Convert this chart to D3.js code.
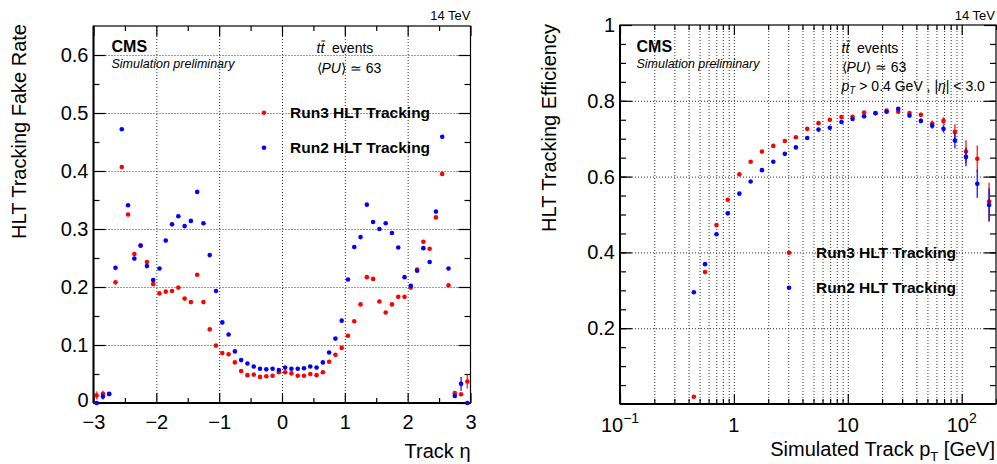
<!DOCTYPE html>
<html>
<head>
<meta charset="utf-8">
<title>HLT tracking fake rate and efficiency</title>
<script src="https://cdn.jsdelivr.net/npm/d3@7"></script>
<style>
  body { margin: 0; background: #fff; }
  svg { font-family: "Liberation Sans", Arial, Helvetica, sans-serif; }
  .grid line { stroke: #333; stroke-dasharray: 1,2; }
  .grid path, .ticks path { display: none; }
  .ticks line { stroke: #000; stroke-width: 1.2; }
  .ticks text { font-size: 20px; fill: #000; font-family: "Liberation Sans", Arial, sans-serif; }
</style>
</head>
<body>
<svg id="chart" width="997" height="464"></svg>
<script>
  // ---- left panel: fake rate vs track eta ----
  var etaBins = [-2.95,-2.85,-2.75,-2.65,-2.55,-2.45,-2.35,-2.25,-2.15,-2.05,
                 -1.95,-1.85,-1.75,-1.65,-1.55,-1.45,-1.35,-1.25,-1.15,-1.05,
                 -0.95,-0.85,-0.75,-0.65,-0.55,-0.45,-0.35,-0.25,-0.15,-0.05,
                  0.05, 0.15, 0.25, 0.35, 0.45, 0.55, 0.65, 0.75, 0.85, 0.95,
                  1.05, 1.15, 1.25, 1.35, 1.45, 1.55, 1.65, 1.75, 1.85, 1.95,
                  2.05, 2.15, 2.25, 2.35, 2.45, 2.55, 2.65, 2.75, 2.85, 2.95];
  var fakeRun3 = [0.013,0.016,0.015,0.208,0.407,0.325,0.257,0.272,0.243,0.205,
                  0.189,0.192,0.193,0.199,0.180,0.174,0.221,0.174,0.127,0.099,
                  0.086,0.084,0.070,0.055,0.048,0.049,0.045,0.046,0.047,0.053,
                  0.053,0.051,0.047,0.047,0.050,0.048,0.053,0.071,0.083,0.095,
                  0.116,0.141,0.170,0.217,0.214,0.175,0.156,0.170,0.183,0.183,
                  0.199,0.230,0.278,0.266,0.320,0.395,0.203,0.017,0.015,0.037];
  var fakeRun2 = [0.000,0.011,0.016,0.233,0.472,0.341,0.249,0.271,0.236,0.212,
                  0.232,0.280,0.308,0.322,0.305,0.314,0.364,0.310,0.255,0.193,
                  0.139,0.118,0.089,0.074,0.068,0.063,0.059,0.058,0.059,0.057,
                  0.061,0.059,0.059,0.060,0.063,0.061,0.070,0.087,0.111,0.142,
                  0.213,0.269,0.286,0.342,0.312,0.300,0.310,0.293,0.268,0.217,
                  0.202,0.228,0.267,0.243,0.330,0.459,0.232,0.012,0.033,0.000];
  // only the outermost bins carry a visible error bar
  var fakeErr3 = {"-2.95": 0.007, "-2.85": 0.005, "2.95": 0.012};
  var fakeErr2 = {"-2.85": 0.005, "2.85": 0.012};
  var etaTicks = [-3, -2, -1, 0, 1, 2, 3];
  var fakeTicks = [0, 0.1, 0.2, 0.3, 0.4, 0.5, 0.6];

  // ---- right panel: efficiency vs simulated pT ----
  var ptBins = [0.445,0.558,0.703,0.883,1.117,1.403,1.762,2.218,2.80,3.50,
                4.40,5.53,6.95,8.80,11.0,13.9,17.5,21.9,27.7,34.8,
                43.8,55.1,69.2,87.1,109,137,174];
  var effRun3 = [0.019,0.348,0.472,0.539,0.606,0.639,0.666,0.681,0.694,0.704,
                 0.726,0.741,0.750,0.757,0.758,0.769,0.768,0.774,0.771,0.768,
                 0.763,0.740,0.747,0.718,0.666,0.647,0.534];
  var effRun2 = [0.295,0.369,0.448,0.503,0.555,0.587,0.617,0.639,0.660,0.677,
                 0.702,0.724,0.729,0.744,0.752,0.759,0.767,0.771,0.779,0.761,
                 0.747,0.734,0.726,0.695,0.652,0.581,0.525];
  var effErr3 = [0,0,0,0,0,0,0,0,0,0, 0,0,0,0,0,0,0,0,0.004,0.005,
                 0.006,0.008,0.01,0.02,0.03,0.035,0.05];
  var effErr2 = [0,0,0,0,0,0,0,0,0,0, 0,0,0,0,0,0,0,0,0.004,0.005,
                 0.006,0.008,0.01,0.02,0.025,0.037,0.044];
  var ptTicks = [0.1, 1, 10, 100];
  var ptTickLabels = [["10", "\u22121"], ["1", ""], ["10", ""], ["10", "2"]];
  var effTicks = [0.2, 0.4, 0.6, 0.8, 1];

  var series = ["Run3 HLT Tracking", "Run2 HLT Tracking"];
  var colors = ["#ff0000", "#0000ff"];

  var svg = d3.select("#chart");
  svg.append("rect").attr("width", 997).attr("height", 464).attr("fill", "#fff");

  // shared bits
  function framePanel(g, x0, x1, y0, y1) {
    g.append("rect")
        .attr("x", x0).attr("y", y0)
        .attr("width", x1 - x0).attr("height", y1 - y0)
        .attr("fill", "none").attr("stroke", "#000").attr("stroke-width", 1.2);
    g.append("line").attr("x1", x0).attr("x2", x0).attr("y1", y0).attr("y2", y1)
        .attr("stroke", "#000").attr("stroke-width", 2);
    g.append("line").attr("x1", x0).attr("x2", x1).attr("y1", y1).attr("y2", y1)
        .attr("stroke", "#000").attr("stroke-width", 2);
  }

  function drawPoints(g, xs, ys, errs, x, y, color) {
    var pts = xs.map(function(d, i) { return {x: d, y: ys[i], e: errs(i, d)}; });
    g.selectAll(null).data(pts.filter(function(d) { return d.e > 0; }))
      .enter().append("line")
        .attr("x1", function(d) { return x(d.x); })
        .attr("x2", function(d) { return x(d.x); })
        .attr("y1", function(d) { return y(Math.max(0, d.y - d.e)); })
        .attr("y2", function(d) { return y(d.y + d.e); })
        .attr("stroke", color).attr("stroke-width", 1.5).attr("opacity", 0.8);
    g.selectAll(null).data(pts)
      .enter().append("circle")
        .attr("cx", function(d) { return x(d.x); })
        .attr("cy", function(d) { return y(d.y); })
        .attr("r", 2.3)
        .attr("fill", color);
  }

  function legend(g, lx, tx, ys) {
    series.forEach(function(s, i) {
      g.append("circle").attr("cx", lx).attr("cy", ys[i]).attr("r", 2.3).attr("fill", colors[i]);
      g.append("text").attr("x", tx).attr("y", ys[i] + 5.5)
          .attr("font-size", 15.5).attr("font-weight", "bold").text(s);
    });
  }

  function ttbar(g, x, y) {
    var t = g.append("text").attr("x", x).attr("y", y).attr("font-size", 14);
    t.append("tspan").attr("font-style", "italic").text("tt");
    t.append("tspan").text("\u00a0\u00a0events");
    var c = t.node().getExtentOfChar(1);
    g.append("line")
        .attr("x1", c.x + 1).attr("x2", c.x + c.width + 1)
        .attr("y1", y - 12).attr("y2", y - 12)
        .attr("stroke", "#000").attr("stroke-width", 1);
  }

  function pileup(g, x, y) {
    var t = g.append("text").attr("x", x).attr("y", y).attr("font-size", 14);
    t.append("tspan").text("\u27e8");
    t.append("tspan").attr("font-style", "italic").text("PU");
    t.append("tspan").text("\u27e9 \u2243 63");
  }

  function cmsLabel(g, x) {
    g.append("text").attr("x", x).attr("y", 52)
        .attr("font-size", 16).attr("font-weight", "bold").text("CMS");
    g.append("text").attr("x", x).attr("y", 68)
        .attr("font-size", 12.5).attr("font-style", "italic").text("Simulation preliminary");
  }

  // ================= left panel =================
  var L = {x0: 93.5, x1: 470.5, y0: 26, y1: 403};
  var xL = d3.scaleLinear().domain([-3, 3]).range([L.x0, L.x1]);
  var yL = d3.scaleLinear().domain([0, 0.65]).range([L.y1, L.y0]);
  var gl = svg.append("g");

  gl.append("g").attr("class", "grid").attr("transform", "translate(0," + L.y1 + ")")
      .call(d3.axisBottom(xL).tickValues([-2, -1, 0, 1, 2]).tickSize(-(L.y1 - L.y0)).tickFormat(""));
  gl.append("g").attr("class", "grid").attr("transform", "translate(" + L.x0 + ",0)")
      .call(d3.axisLeft(yL).tickValues(fakeTicks.slice(1)).tickSize(-(L.x1 - L.x0)).tickFormat(""));

  gl.append("g").attr("class", "ticks").attr("transform", "translate(0," + L.y1 + ")")
      .call(d3.axisBottom(xL).tickValues(etaTicks).tickSize(-10).tickPadding(12)
        .tickFormat(d3.format("d")));
  gl.append("g").attr("class", "ticks").attr("transform", "translate(0," + L.y1 + ")")
      .call(d3.axisBottom(xL).tickValues(d3.range(-2.5, 3, 1)).tickSize(-5).tickFormat(""));
  gl.append("g").attr("class", "ticks").attr("transform", "translate(0," + L.y0 + ")")
      .call(d3.axisTop(xL).tickValues(etaTicks).tickSize(-10).tickFormat(""));
  gl.append("g").attr("class", "ticks").attr("transform", "translate(0," + L.y0 + ")")
      .call(d3.axisTop(xL).tickValues(d3.range(-2.5, 3, 1)).tickSize(-5).tickFormat(""));
  var yAxisL = gl.append("g").attr("class", "ticks").attr("transform", "translate(" + L.x0 + ",0)")
      .call(d3.axisLeft(yL).tickValues(fakeTicks).tickSize(-12).tickPadding(5)
        .tickFormat(function(d) { return d === 0 ? "0" : d.toFixed(1); }));
  // keep the "0" clear of the "-3" just below the corner
  yAxisL.selectAll(".tick text").filter(function(d) { return d === 0; }).attr("y", -3);
  gl.append("g").attr("class", "ticks").attr("transform", "translate(" + L.x0 + ",0)")
      .call(d3.axisLeft(yL).tickValues(d3.range(0.05, 0.65, 0.1)).tickSize(-6).tickFormat(""));
  gl.append("g").attr("class", "ticks").attr("transform", "translate(" + L.x1 + ",0)")
      .call(d3.axisRight(yL).tickValues(fakeTicks).tickSize(-12).tickFormat(""));
  gl.append("g").attr("class", "ticks").attr("transform", "translate(" + L.x1 + ",0)")
      .call(d3.axisRight(yL).tickValues(d3.range(0.05, 0.65, 0.1)).tickSize(-6).tickFormat(""));
  framePanel(gl, L.x0, L.x1, L.y0, L.y1);

  drawPoints(gl, etaBins, fakeRun3, function(i, d) { return fakeErr3[d.toFixed(2)] || 0; }, xL, yL, colors[0]);
  drawPoints(gl, etaBins, fakeRun2, function(i, d) { return fakeErr2[d.toFixed(2)] || 0; }, xL, yL, colors[1]);

  cmsLabel(gl, 111.5);
  ttbar(gl, 316.5, 53);
  pileup(gl, 316.5, 73);
  legend(gl, 264, 290, [112.7, 147.7]);

  gl.append("text").attr("x", L.x1).attr("y", 20).attr("text-anchor", "end")
      .attr("font-size", 13).text("14 TeV");
  gl.append("text").attr("x", L.x1).attr("y", 458).attr("text-anchor", "end")
      .attr("font-size", 20).text("Track \u03b7");
  gl.append("text").attr("transform", "translate(26," + 24 + ") rotate(-90)")
      .attr("text-anchor", "end").attr("font-size", 20).text("HLT Tracking Fake Rate");

  // ================= right panel =================
  var R = {x0: 620, x1: 996, y0: 25, y1: 404};
  var xR = d3.scaleLog().domain([0.1, 200]).range([R.x0, R.x1]);
  var yR = d3.scaleLinear().domain([0, 1]).range([R.y1, R.y0]);
  var gr = svg.append("g");

  var logMinor = [];
  [0.1, 1, 10, 100].forEach(function(dec) {
    for (var k = 2; k <= 9; k++) {
      if (dec * k <= 200) logMinor.push(dec * k);
    }
  });

  gr.append("g").attr("class", "grid").attr("transform", "translate(0," + R.y1 + ")")
      .call(d3.axisBottom(xR).tickValues(logMinor.concat([1, 10, 100]).filter(function(v) { return v < 200; }))
        .tickSize(-(R.y1 - R.y0)).tickFormat(""));
  gr.append("g").attr("class", "grid").attr("transform", "translate(" + R.x0 + ",0)")
      .call(d3.axisLeft(yR).tickValues([0.2, 0.4, 0.6, 0.8]).tickSize(-(R.x1 - R.x0)).tickFormat(""));

  gr.append("g").attr("class", "ticks").attr("transform", "translate(0," + R.y1 + ")")
      .call(d3.axisBottom(xR).tickValues(ptTicks).tickSize(-10).tickFormat(""));
  gr.append("g").attr("class", "ticks").attr("transform", "translate(0," + R.y1 + ")")
      .call(d3.axisBottom(xR).tickValues(logMinor).tickSize(-5).tickFormat(""));
  gr.append("g").attr("class", "ticks").attr("transform", "translate(0," + R.y0 + ")")
      .call(d3.axisTop(xR).tickValues(ptTicks).tickSize(-10).tickFormat(""));
  gr.append("g").attr("class", "ticks").attr("transform", "translate(0," + R.y0 + ")")
      .call(d3.axisTop(xR).tickValues(logMinor).tickSize(-5).tickFormat(""));
  gr.append("g").attr("class", "ticks").attr("transform", "translate(" + R.x0 + ",0)")
      .call(d3.axisLeft(yR).tickValues(effTicks).tickSize(-12).tickPadding(5)
        .tickFormat(function(d) { return d === 1 ? "1" : d.toFixed(1); }));
  gr.append("g").attr("class", "ticks").attr("transform", "translate(" + R.x0 + ",0)")
      .call(d3.axisLeft(yR).tickValues(d3.range(0.05, 1, 0.05)).tickSize(-6).tickFormat(""));
  gr.append("g").attr("class", "ticks").attr("transform", "translate(" + R.x1 + ",0)")
      .call(d3.axisRight(yR).tickValues(effTicks).tickSize(-12).tickFormat(""));
  gr.append("g").attr("class", "ticks").attr("transform", "translate(" + R.x1 + ",0)")
      .call(d3.axisRight(yR).tickValues(d3.range(0.05, 1, 0.05)).tickSize(-6).tickFormat(""));
  framePanel(gr, R.x0, R.x1, R.y0, R.y1);

  // log axis labels with superscripts
  ptTicks.forEach(function(v, i) {
    var t = gr.append("text").attr("x", xR(v)).attr("y", 432)
        .attr("text-anchor", "middle").attr("font-size", 20);
    t.append("tspan").text(ptTickLabels[i][0]);
    if (ptTickLabels[i][1]) {
      t.append("tspan").attr("font-size", 14).attr("dy", -9).text(ptTickLabels[i][1]);
    }
  });

  drawPoints(gr, ptBins, effRun3, function(i) { return effErr3[i]; }, xR, yR, colors[0]);
  drawPoints(gr, ptBins, effRun2, function(i) { return effErr2[i]; }, xR, yR, colors[1]);

  cmsLabel(gr, 636.5);
  ttbar(gr, 841.5, 53);
  pileup(gr, 841.5, 72);
  var cut = gr.append("text").attr("x", 841.5).attr("y", 91).attr("font-size", 14);
  cut.append("tspan").attr("font-style", "italic").text("p");
  cut.append("tspan").attr("font-style", "italic").attr("font-size", 10).attr("dy", 3).text("T");
  cut.append("tspan").attr("dy", -3).text(" > 0.4 GeV , |");
  cut.append("tspan").attr("font-style", "italic").text("\u03b7");
  cut.append("tspan").text("| < 3.0");
  legend(gr, 789, 816, [252.7, 287.7]);

  gr.append("text").attr("x", 995).attr("y", 20).attr("text-anchor", "end")
      .attr("font-size", 13).text("14 TeV");
  var xt = gr.append("text").attr("x", 995).attr("y", 456).attr("text-anchor", "end")
      .attr("font-size", 20);
  xt.append("tspan").text("Simulated Track p");
  xt.append("tspan").attr("font-size", 13).attr("dy", 5).text("T");
  xt.append("tspan").attr("dy", -5).text(" [GeV]");
  gr.append("text").attr("transform", "translate(556," + 24 + ") rotate(-90)")
      .attr("text-anchor", "end").attr("font-size", 20).text("HLT Tracking Efficiency");
</script>
</body>
</html>
